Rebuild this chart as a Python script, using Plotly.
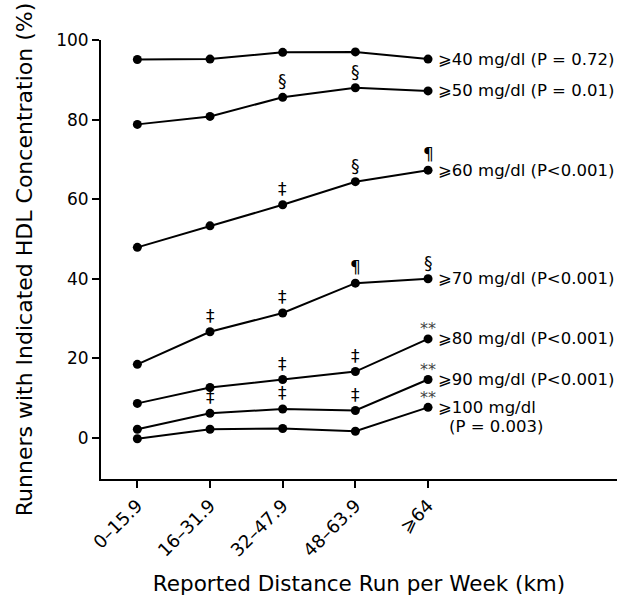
import plotly.graph_objects as go

categories = ["0–15.9", "16–31.9", "32–47.9", "48–63.9", "⩾64"]

s40 = [95.1, 95.2, 96.9, 97.0, 95.2]
s50 = [78.8, 80.8, 85.6, 88.0, 87.2]
s60 = [47.9, 53.3, 58.6, 64.4, 67.3]
s70 = [18.5, 26.7, 31.4, 38.9, 40.0]
s80 = [8.7, 12.7, 14.7, 16.7, 24.9]
s90 = [2.2, 6.2, 7.3, 6.9, 14.7]
s100 = [-0.2, 2.2, 2.4, 1.7, 7.7]

sig40 = ["", "", "", "", ""]
sig50 = ["", "", "§", "§", ""]
sig60 = ["", "", "‡", "§", "¶"]
sig70 = ["", "‡", "‡", "¶", "§"]
sig80 = ["", "", "‡", "‡", "**"]
sig90 = ["", "‡", "‡", "‡", "**"]
sig100 = ["", "", "", "", "**"]

labels = [
    "⩾40 mg/dl (P = 0.72)",
    "⩾50 mg/dl (P = 0.01)",
    "⩾60 mg/dl (P&lt;0.001)",
    "⩾70 mg/dl (P&lt;0.001)",
    "⩾80 mg/dl (P&lt;0.001)",
    "⩾90 mg/dl (P&lt;0.001)",
    "⩾100 mg/dl",
]
label_sub = ["", "", "", "", "", "", "(P = 0.003)"]

y_ticks = [0, 20, 40, 60, 80, 100]
x_title = "Reported Distance Run per Week (km)"
y_title = "Runners with Indicated HDL Concentration (%)"

series = [s40, s50, s60, s70, s80, s90, s100]
sigs = [sig40, sig50, sig60, sig70, sig80, sig90, sig100]

FONT = "DejaVu Sans"

fig = go.Figure()
for vals in series:
    fig.add_trace(go.Scatter(
        x=categories, y=vals, mode="lines+markers",
        line=dict(color="black", width=2),
        marker=dict(color="black", size=9),
        showlegend=False, hoverinfo="skip",
    ))

annotations = []
for vals, sg, lab, sub in zip(series, sigs, labels, label_sub):
    for cat, v, s in zip(categories, vals, sg):
        if not s:
            continue
        if s == "**":
            annotations.append(dict(
                x=cat, y=v, xref="x", yref="y", text=s, showarrow=False,
                xanchor="center", yanchor="middle", yshift=10,
                font=dict(family=FONT, size=16, color="#444"),
            ))
        else:
            annotations.append(dict(
                x=cat, y=v, xref="x", yref="y", text=s, showarrow=False,
                xanchor="center", yanchor="middle", yshift=16,
                font=dict(family=FONT, size=17, color="black"),
            ))
    annotations.append(dict(
        x=categories[-1], y=vals[-1], xref="x", yref="y", text=lab,
        showarrow=False, xanchor="left", yanchor="middle", xshift=8,
        font=dict(family=FONT, size=16.5, color="black"),
    ))
    if sub:
        annotations.append(dict(
            x=categories[-1], y=vals[-1], xref="x", yref="y", text=sub,
            showarrow=False, xanchor="left", yanchor="middle", xshift=19,
            yshift=-19,
            font=dict(family=FONT, size=16.5, color="black"),
        ))

fig.update_layout(
    width=621, height=596,
    margin=dict(l=101, r=4, t=40, b=117, autoexpand=False),
    paper_bgcolor="white", plot_bgcolor="white",
    font=dict(family=FONT, size=17, color="black"),
    annotations=annotations,
    xaxis=dict(
        type="category", range=[-0.5, 6.6],
        showline=True, linecolor="black", linewidth=2,
        ticks="outside", ticklen=7, tickwidth=2, tickcolor="black",
        tickangle=-45, tickfont=dict(family=FONT, size=18),
        showgrid=False, zeroline=False,
        title=dict(text=x_title, font=dict(family=FONT, size=21.5), standoff=20),
    ),
    yaxis=dict(
        range=[-10.3, 100], tickvals=y_ticks,
        showline=True, linecolor="black", linewidth=2,
        ticks="outside", ticklen=7, tickwidth=2, tickcolor="black",
        tickfont=dict(family=FONT, size=17),
        showgrid=False, zeroline=False,
        title=dict(text=y_title, font=dict(family=FONT, size=22), standoff=17),
    ),
)

fig.write_html(
    "out.html",
    config={"displayModeBar": False},
    post_script="document.body.style.margin='0';document.body.style.padding='0';",
)
